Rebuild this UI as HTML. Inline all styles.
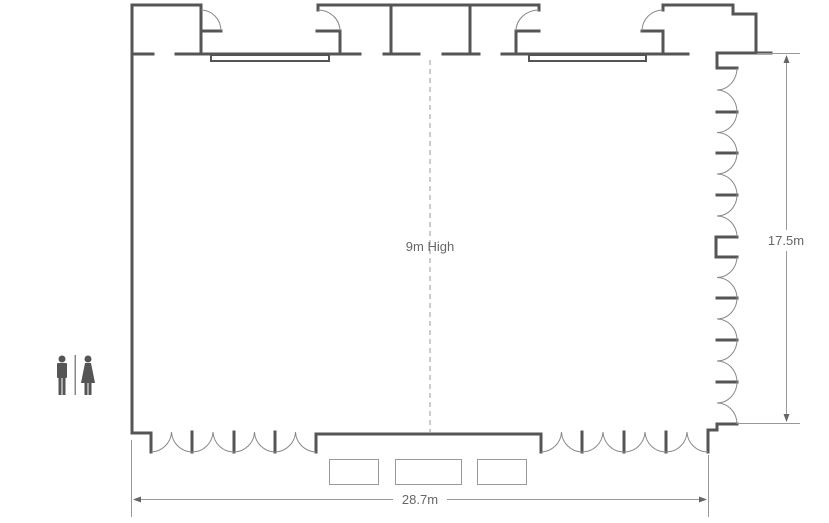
<!DOCTYPE html>
<html><head><meta charset="utf-8"><style>
html,body{margin:0;padding:0;background:#fff;}
svg{display:block;}
text{font-family:"Liberation Sans",sans-serif;fill:#666;font-size:13px;}
</style></head><body>
<svg width="829" height="523" viewBox="0 0 829 523" xmlns="http://www.w3.org/2000/svg">
<g fill="none" stroke="#555" stroke-width="3" stroke-linecap="square" stroke-linejoin="miter">
<!-- left wall -->
<polyline points="201,31 201,5 132,5 132,433 151,433 151,452"/>
<!-- top wall segments -->
<line x1="132" y1="54" x2="153" y2="54"/>
<line x1="176" y1="54" x2="360" y2="54"/>
<line x1="384" y1="54" x2="419" y2="54"/>
<line x1="443" y1="54" x2="479" y2="54"/>
<line x1="502" y1="54" x2="688" y2="54"/>
<!-- door 1 -->
<polyline points="221,31 201,31 201,54"/>
<!-- door 2 -->
<polyline points="318,10 318,5 539,5 539,10"/>
<polyline points="317,31 340,31 340,54"/>
<line x1="391" y1="5" x2="391" y2="54"/>
<line x1="470" y1="5" x2="470" y2="54"/>
<polyline points="539,31 516,31 516,54"/>
<!-- right piece -->
<polyline points="642,31 663,31 663,54"/>
<polyline points="663,10 663,5 733,5 733,14 756,14 756,53 771,53"/>
<polyline points="756,53 717,53 717,68 737,68"/>
<!-- right wall step -->
<polyline points="737,237 716,237 716,257 737,257"/>
<!-- right stubs -->
<line x1="717" y1="112" x2="737" y2="112"/>
<line x1="717" y1="153" x2="737" y2="153"/>
<line x1="717" y1="195" x2="737" y2="195"/>
<line x1="717" y1="298" x2="737" y2="298"/>
<line x1="717" y1="340" x2="737" y2="340"/>
<line x1="717" y1="382" x2="737" y2="382"/>
<!-- bottom right corner -->
<polyline points="737,424 717,424 717,430 708,430 708,452"/>
<!-- bottom stubs -->
<line x1="192" y1="432" x2="192" y2="452"/>
<line x1="234" y1="432" x2="234" y2="452"/>
<line x1="275" y1="432" x2="275" y2="452"/>
<line x1="582" y1="432" x2="582" y2="452"/>
<line x1="624" y1="432" x2="624" y2="452"/>
<line x1="666" y1="432" x2="666" y2="452"/>
<!-- bottom middle wall -->
<polyline points="316,452 316,434 541,434 541,452"/>
</g>
<!-- windows -->
<g fill="none" stroke="#555" stroke-width="2">
<rect x="211" y="55" width="118" height="6"/>
<rect x="529" y="55" width="117" height="6"/>
</g>
<!-- door arcs -->
<g fill="none" stroke="#888" stroke-width="1">
<path d="M201,10 A20,21 0 0 1 221,31"/>
<path d="M318,10 A22,21 0 0 1 340,31"/>
<path d="M539,10 A23,21 0 0 0 516,31"/>
<path d="M663,10 A21,21 0 0 0 642,31"/>
<!-- bottom left doors -->
<path d="M151,452 A21,21 0 0 0 171.5,432 A21,21 0 0 0 192,452 A21,21 0 0 0 213,432 A21,21 0 0 0 234,452 A21,21 0 0 0 254.5,432 A21,21 0 0 0 275,452 A21,21 0 0 0 295.5,432 A21,21 0 0 0 316,452"/>
<!-- bottom right doors -->
<path d="M541,452 A21,21 0 0 0 561.5,432 A21,21 0 0 0 582,452 A21,21 0 0 0 603,432 A21,21 0 0 0 624,452 A21,21 0 0 0 645,432 A21,21 0 0 0 666,452 A21,21 0 0 0 687,432 A21,21 0 0 0 708,452"/>
<!-- right wall doors -->
<path d="M737,68 A20,22 0 0 1 717,90 A20,22 0 0 1 737,112 A20,21 0 0 1 717,132.5 A20,21 0 0 1 737,153 A20,21 0 0 1 717,174 A20,21 0 0 1 737,195 A20,21 0 0 1 717,216 A20,21 0 0 1 737,237"/>
<path d="M737,257 A20,21 0 0 1 717,277.5 A20,21 0 0 1 737,298 A20,21 0 0 1 717,319 A20,21 0 0 1 737,340 A20,21 0 0 1 717,361 A20,21 0 0 1 737,382 A20,21 0 0 1 717,403 A20,21 0 0 1 737,424"/>
</g>
<!-- tables -->
<g fill="none" stroke="#999" stroke-width="1">
<rect x="329.5" y="459.5" width="49" height="25"/>
<rect x="395.5" y="459.5" width="66" height="25"/>
<rect x="477.5" y="459.5" width="49" height="25"/>
</g>
<!-- dashed center -->
<line x1="430" y1="60" x2="430" y2="432" stroke="#999" stroke-width="1" stroke-dasharray="5,4"/>
<text x="430" y="251" text-anchor="middle">9m High</text>
<!-- dimension lines -->
<g stroke="#999" stroke-width="1" fill="none">
<line x1="757" y1="53.5" x2="800" y2="53.5"/>
<line x1="737" y1="423.5" x2="800" y2="423.5"/>
<line x1="786.5" y1="56" x2="786.5" y2="230"/>
<line x1="786.5" y1="251" x2="786.5" y2="421"/>
<line x1="131.5" y1="440" x2="131.5" y2="517"/>
<line x1="708.5" y1="455" x2="708.5" y2="517"/>
<line x1="134" y1="499.5" x2="393" y2="499.5"/>
<line x1="447" y1="499.5" x2="706" y2="499.5"/>
</g>
<g fill="#666">
<polygon points="786.5,55 783.5,63 789.5,63"/>
<polygon points="786.5,422 783.5,414 789.5,414"/>
<polygon points="133,499.5 141,496.5 141,502.5"/>
<polygon points="707,499.5 699,496.5 699,502.5"/>
</g>
<text x="786" y="245" text-anchor="middle">17.5m</text>
<text x="420" y="504" text-anchor="middle">28.7m</text>
<!-- toilet icons -->
<g fill="#555">
<circle cx="62" cy="359" r="3.5"/>
<rect x="57" y="363" width="10" height="15" rx="1"/>
<rect x="58.5" y="377" width="3" height="18"/>
<rect x="62.5" y="377" width="3" height="18"/>
<rect x="74.5" y="355" width="1.5" height="40" fill="#888"/>
<circle cx="88" cy="359" r="3.5"/>
<polygon points="85,363 91,363 95,383 81,383"/>
<rect x="84.5" y="382" width="3" height="13"/>
<rect x="88.5" y="382" width="3" height="13"/>
</g>
</svg>
</body></html>
